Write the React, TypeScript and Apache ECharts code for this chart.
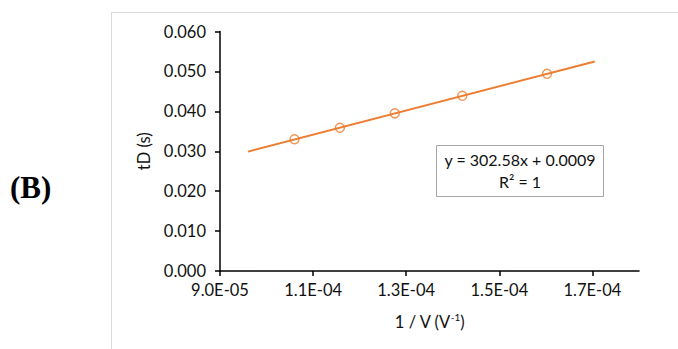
import React, { useEffect, useRef } from "react";
import * as echarts from "echarts";

const pointX = [1.06e-4, 1.1575e-4, 1.2755e-4, 1.4205e-4, 1.6025e-4];
const pointY = [0.0330, 0.0359, 0.0395, 0.0439, 0.0494];
const trendX = [9.6e-5, 1.705e-4];
const trendY = [0.0299, 0.0525];
const xTicks = [9.0e-5, 1.1e-4, 1.3e-4, 1.5e-4, 1.7e-4];
const equationText = "y = 302.58x + 0.0009";
const r2Text = "R² = 1";
const panelLabel = "(B)";

const ORANGE = "#ED7D31";
const FONT = "Lato";
const TXT = "#111";

function fmtExp(v: number): string {
  const [m, e] = v.toExponential(1).split("e");
  const sign = e[0] === "-" ? "-" : "+";
  const digits = e.replace(/^[+-]/, "").padStart(2, "0");
  return `${m}E${sign}${digits}`;
}

export default function App() {
  const ref = useRef<HTMLDivElement>(null);
  useEffect(() => {
    if (!ref.current) return;
    const chart = echarts.init(ref.current, undefined, { renderer: "svg" });
    chart.setOption({
      animation: false,
      backgroundColor: "#ffffff",
      grid: { left: 220, right: 39, top: 31.5, bottom: 78, containLabel: false },
      xAxis: {
        type: "value",
        min: 9.0e-5,
        max: 1.8e-4,
        name: "{a|1 / V (V}{s|-1}{a|)}",
        nameLocation: "middle",
        nameGap: 41,
        nameTextStyle: {
          rich: {
            a: { fontFamily: FONT, fontSize: 16.5, color: TXT },
            s: { fontFamily: FONT, fontSize: 10, color: TXT, padding: [0, 0, 9, 0] },
          },
        },
        axisLine: { show: true, onZero: false, lineStyle: { color: "#000", width: 1.5 } },
        axisTick: { show: true, length: 5, customValues: xTicks, lineStyle: { color: "#000", width: 1.5 } },
        axisLabel: {
          customValues: xTicks,
          formatter: (v: number) => fmtExp(v),
          fontFamily: FONT,
          fontSize: 16.5,
          color: TXT,
          margin: 10,
        },
        splitLine: { show: false },
      },
      yAxis: {
        type: "value",
        min: 0,
        max: 0.06,
        interval: 0.01,
        name: "tD (s)",
        nameLocation: "middle",
        nameGap: 62,
        nameTextStyle: { fontFamily: FONT, fontSize: 16.5, color: TXT },
        axisLine: { show: true, lineStyle: { color: "#000", width: 1.5 } },
        axisTick: { show: true, length: 5, lineStyle: { color: "#000", width: 1.5 } },
        axisLabel: {
          formatter: (v: number) => v.toFixed(3),
          fontFamily: FONT,
          fontSize: 16.5,
          color: TXT,
          margin: 14,
        },
        splitLine: { show: false },
      },
      series: [
        {
          type: "line",
          data: trendX.map((x, i) => [x, trendY[i]]),
          showSymbol: false,
          symbol: "none",
          lineStyle: { color: ORANGE, width: 2 },
          z: 2,
        },
        {
          type: "scatter",
          data: pointX.map((x, i) => [x, pointY[i]]),
          symbol: "circle",
          symbolSize: 9,
          itemStyle: { color: "rgba(0,0,0,0)", borderColor: ORANGE, borderWidth: 1.5 },
          z: 3,
        },
      ],
      graphic: [
        {
          type: "rect",
          z: -10,
          silent: true,
          shape: { x: 111.5, y: 12.5, width: 800, height: 500 },
          style: { fill: "none", stroke: "#d9d9d9", lineWidth: 1 },
        },
        {
          type: "text",
          x: 10,
          y: 187,
          style: {
            text: panelLabel,
            font: "bold 31px 'Liberation Serif'",
            fill: "#000",
            verticalAlign: "middle",
            align: "left",
          },
        },
        {
          type: "group",
          z: 100,
          children: [
            {
              type: "rect",
              shape: { x: 436.5, y: 145.5, width: 167, height: 51 },
              style: { fill: "#fff", stroke: "#a6a6a6", lineWidth: 1 },
            },
            {
              type: "text",
              x: 520,
              y: 159,
              style: {
                text: equationText,
                font: `16px ${FONT}`,
                fill: TXT,
                align: "center",
                verticalAlign: "middle",
              },
            },
            {
              type: "text",
              x: 520,
              y: 181,
              style: {
                text: r2Text,
                font: `16px ${FONT}`,
                fill: TXT,
                align: "center",
                verticalAlign: "middle",
              },
            },
          ],
        },
      ],
    });
    return () => chart.dispose();
  }, []);
  return (
    <div
      ref={ref}
      style={{ position: "fixed", left: 0, top: 0, width: 678, height: 349, background: "#fff" }}
    />
  );
}
